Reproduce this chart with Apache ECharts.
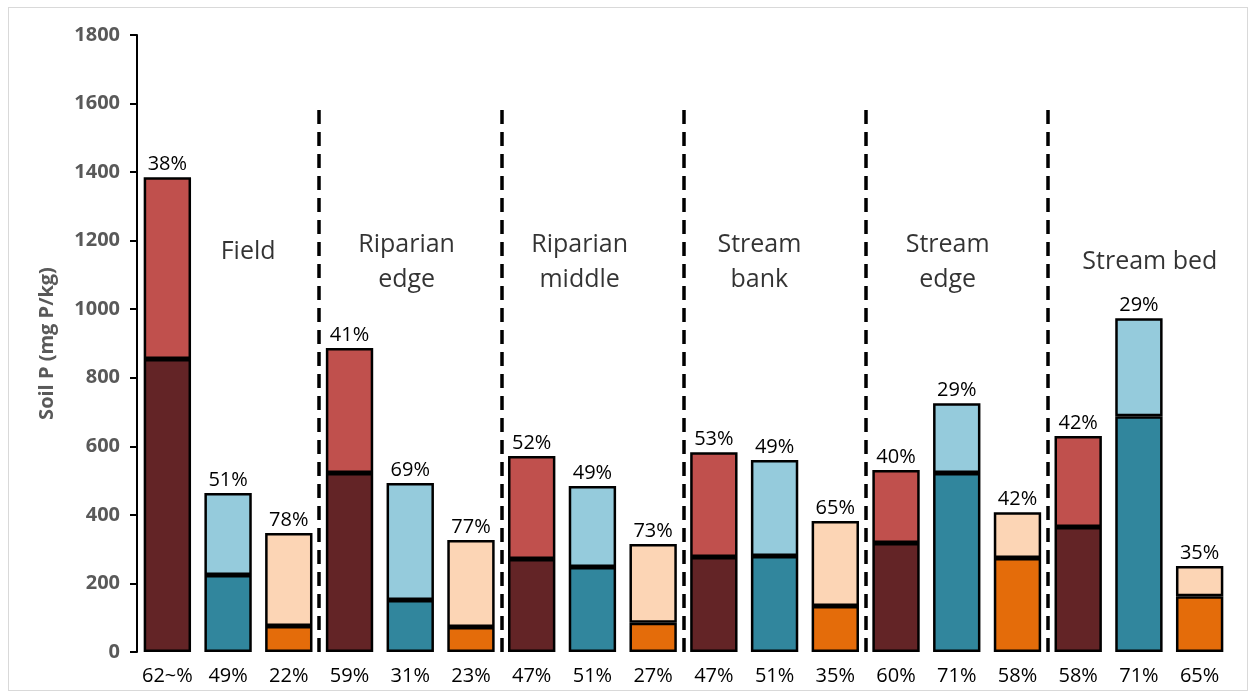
<!DOCTYPE html>
<html>
<head>
<meta charset="utf-8">
<script src="https://cdn.jsdelivr.net/npm/echarts@6/dist/echarts.min.js"></script>
<style>
  html, body { margin: 0; padding: 0; background: #fff; }
  #frame {
    position: absolute; left: 8px; top: 7px; width: 1238px; height: 682px;
    border: 1px solid #d9d9d9;
  }
  #chart { position: absolute; left: 0; top: 0; width: 1255px; height: 698px; }
</style>
</head>
<body>
<div id="frame"></div>
<div id="chart"></div>
<script>
// one bar per site x fraction, three per site
var bottomPct = ['62~%', '49%', '22%', '59%', '31%', '23%', '47%', '51%', '27%',
                 '47%', '51%', '35%', '60%', '71%', '58%', '58%', '71%', '65%'];
var topPct = ['38%', '51%', '78%', '41%', '69%', '77%', '52%', '49%', '73%',
              '53%', '49%', '65%', '40%', '29%', '42%', '42%', '29%', '35%'];
// lower (dark) part and total height of each bar, mg P/kg
var bottomVals = [855, 225, 76, 522, 152, 73, 271, 248, 85,
                  277, 280, 134, 318, 522, 274, 365, 688, 163];
var totalVals = [1385, 464, 347, 887, 493, 327, 572, 484, 315,
                 583, 560, 382, 531, 726, 408, 630, 974, 251];
var siteNames = ['Field', 'Riparian\nedge', 'Riparian\nmiddle', 'Stream\nbank', 'Stream\nedge', 'Stream bed'];
var yTicks = [0, 200, 400, 600, 800, 1000, 1200, 1400, 1600, 1800];

var darkColors = ['#632426', '#31869d', '#e46c0a'];
var lightColors = ['#c0504d', '#95cbdc', '#fcd5b5'];

// where the site names sit (site-unit x, value y)
var namePos = [[1.83, 1167], [4.44, 1138], [7.29, 1138], [10.25, 1138], [13.35, 1138], [16.68, 1138]];

var chart = echarts.init(document.getElementById('chart'));

var bottomData = bottomVals.map(function (v, i) {
  return { value: v, itemStyle: { color: darkColors[i % 3] } };
});
var topData = totalVals.map(function (v, i) {
  return { value: v - bottomVals[i], itemStyle: { color: lightColors[i % 3] } };
});

var sepLines = [];
for (var k = 1; k < siteNames.length; k++) {
  sepLines.push([{ coord: [k * 3, 0] }, { coord: [k * 3, 1600] }]);
}

var txtFont = 'Open Sans';

var option = {
  animation: false,
  grid: { left: 137, right: 25, top: 35, bottom: 46 },
  xAxis: [
    {
      type: 'category',
      data: bottomPct,
      axisLine: { show: false },
      axisTick: { show: false },
      axisLabel: {
        interval: 0,
        margin: 14,
        color: '#000',
        fontSize: 20,
        fontFamily: txtFont
      }
    },
    { type: 'value', min: 0, max: 18, show: false }
  ],
  yAxis: {
    type: 'value',
    min: 0,
    max: 1800,
    interval: 200,
    name: 'Soil P (mg P/kg)',
    nameLocation: 'middle',
    nameGap: 80,
    nameTextStyle: { color: '#595959', fontSize: 20, fontWeight: 'bold', fontFamily: txtFont },
    axisLine: { show: true, lineStyle: { color: '#000', width: 2 } },
    axisTick: { show: true, length: 7, lineStyle: { color: '#000', width: 2 } },
    splitLine: { show: false },
    axisLabel: {
      margin: 17,
      color: '#595959',
      fontSize: 20,
      fontWeight: 'bold',
      fontFamily: txtFont,
      formatter: function (v) { return yTicks.indexOf(v) >= 0 ? String(v) : ''; }
    }
  },
  series: [
    {
      type: 'bar',
      stack: 'soil',
      data: bottomData,
      barCategoryGap: '22%',
      itemStyle: { borderColor: '#000', borderWidth: 2.5 }
    },
    {
      type: 'bar',
      stack: 'soil',
      data: topData,
      itemStyle: { borderColor: '#000', borderWidth: 2.5 },
      label: {
        show: true,
        position: 'top',
        distance: 3,
        color: '#000',
        fontSize: 20,
        fontFamily: txtFont,
        formatter: function (p) { return topPct[p.dataIndex]; }
      }
    },
    {
      type: 'scatter',
      xAxisIndex: 1,
      symbolSize: 0,
      silent: true,
      data: namePos.map(function (p, i) { return { value: p, name: siteNames[i] }; }),
      label: {
        show: true,
        position: 'inside',
        formatter: '{b}',
        color: '#000',
        fontSize: 25,
        lineHeight: 35,
        fontFamily: txtFont
      },
      markLine: {
        silent: true,
        symbol: 'none',
        label: { show: false },
        lineStyle: { color: '#000', width: 3.5, type: [14, 8] },
        data: sepLines
      }
    }
  ]
};

chart.setOption(option);
</script>
</body>
</html>
